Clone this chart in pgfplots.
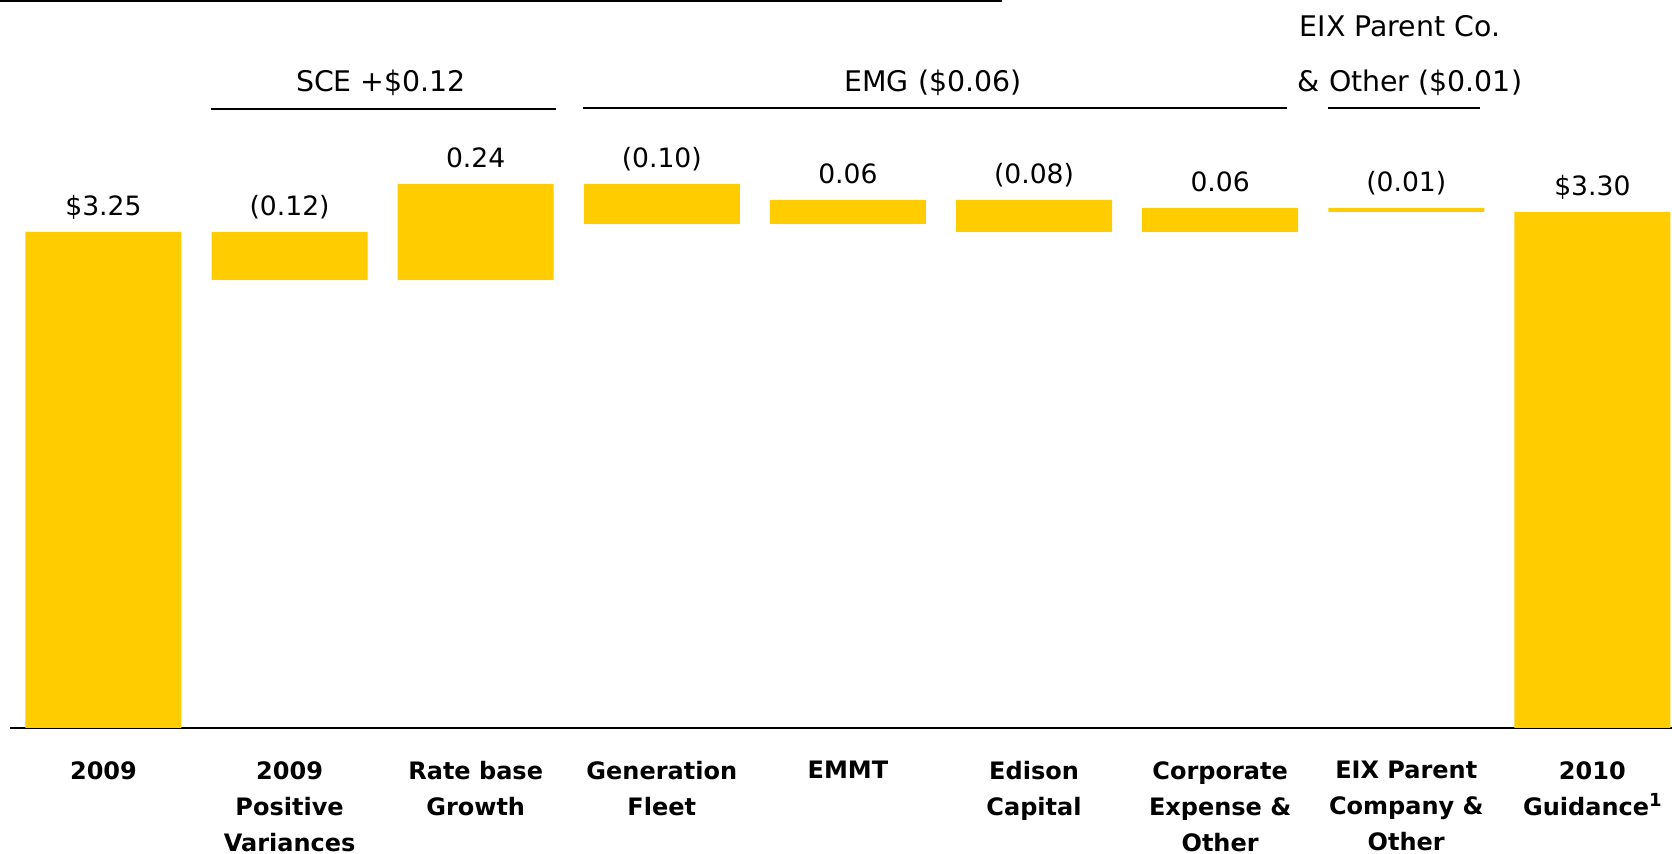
\documentclass[border=0pt]{standalone}
\usepackage{pgfplots}
\pgfplotsset{compat=1.18}
\usepackage{fontspec}
\setmainfont{DejaVu Sans}
\definecolor{barY}{RGB}{255,204,0}
\begin{document}
\begin{tikzpicture}
\useasboundingbox (0,0) rectangle (836pt,427pt);
\begin{axis}[
  at={(5.2pt,63pt)}, anchor=south west,
  scale only axis, width=831pt, height=364pt,
  xmin=-0.5, xmax=8.43, ymin=2.01, ymax=3.83,
  ybar stacked, bar width=78pt,
  axis y line=none, axis x line*=bottom,
  x axis line style={-, line width=1pt, black},
  xtick={0,...,8}, major tick length=0pt,
  xticklabels={2009, 2009\\Positive\\Variances, Rate base\\Growth, Generation\\Fleet, EMMT, Edison\\Capital, Corporate\\Expense \&\\Other, EIX Parent\\Company \&\\Other, 2010\\Guidance\raisebox{4.5pt}{\fontsize{9}{9}\selectfont 1}},
  xticklabel style={align=center, anchor=north, inner sep=0pt, yshift=-16.5pt,
     font=\fontsize{12}{18}\selectfont\bfseries},
]
\addplot[draw=none, fill=none] coordinates {(0,0) (1,3.13) (2,3.13) (3,3.27) (4,3.27) (5,3.25) (6,3.25) (7,3.30) (8,0)};
\addplot[draw=none, fill=barY]
 coordinates {(0,3.25) (1,0.12) (2,0.24) (3,0.10) (4,0.06) (5,0.08) (6,0.06) (7,0.01) (8,3.30)};
\end{axis}
\begin{axis}[
  at={(5.2pt,63pt)}, anchor=south west,
  scale only axis, width=831pt, height=364pt,
  xmin=-0.5, xmax=8.43, ymin=2.01, ymax=3.83,
  hide axis, clip=false,
]
\addplot[only marks, mark=none, point meta=explicit symbolic,
  nodes near coords,
  nodes near coords style={anchor=base, inner sep=0pt, yshift=8pt, font=\fontsize{13.3}{15}\selectfont, black}]
 coordinates {(0,3.25) [\$3.25] (1,3.25) [(0.12)] (2,3.37) [0.24] (3,3.37) [(0.10)] (4,3.33) [0.06] (5,3.33) [(0.08)] (6,3.31) [0.06] (7,3.31) [(0.01)] (8,3.30) [\$3.30]};
\end{axis}
\draw[line width=1pt] (0,426.5pt) -- (501pt,426.5pt);
\begin{scope}[every node/.style={font=\fontsize{14.2}{16}\selectfont, anchor=base, inner sep=0pt}]
\node at (190.5pt,381pt) {SCE +\$0.12};
\node at (466.5pt,381pt) {EMG (\$0.06)};
\node at (700pt,408.5pt) {EIX Parent Co.};
\node at (705pt,381pt) {\& Other (\$0.01)};
\end{scope}
\draw[line width=1pt] (105.5pt,372.6pt) -- (278pt,372.6pt);
\draw[line width=1pt] (291.6pt,373pt) -- (643.5pt,373pt);
\draw[line width=1pt] (664pt,373pt) -- (740pt,373pt);
\end{tikzpicture}
\end{document}
